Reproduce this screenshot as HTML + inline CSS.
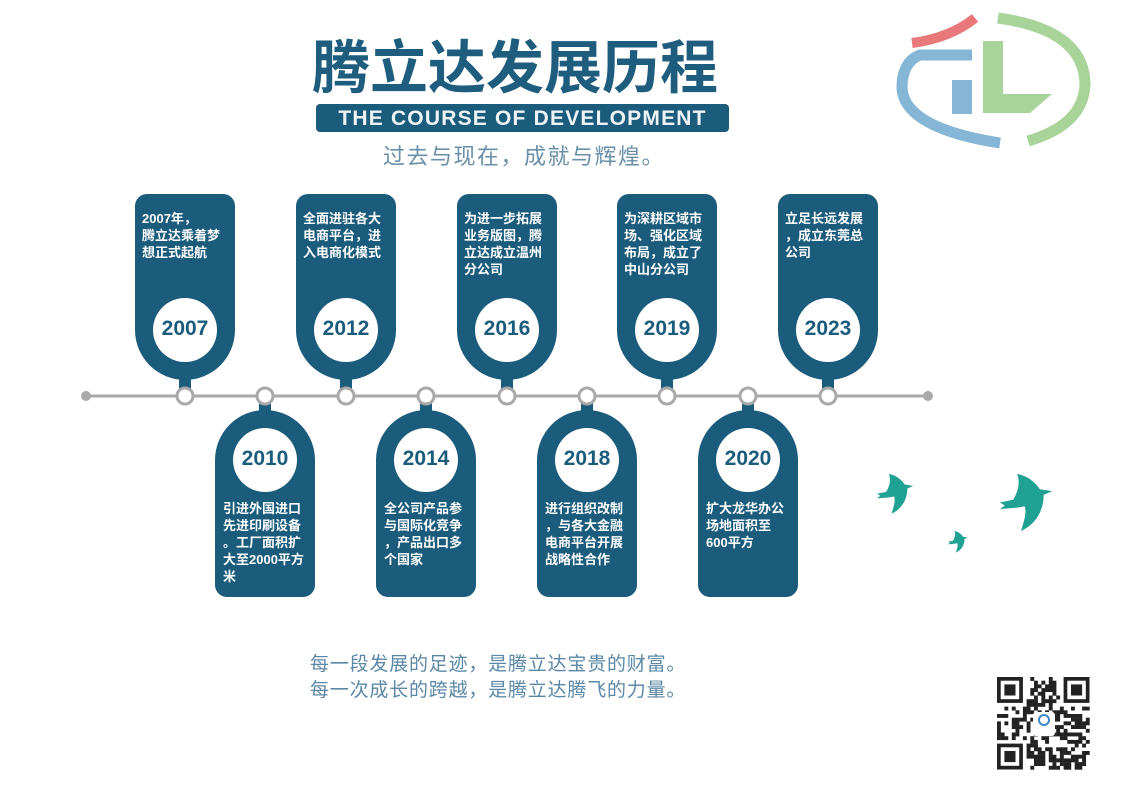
<!DOCTYPE html>
<html><head><meta charset="utf-8">
<style>
html,body{margin:0;padding:0;background:#fff;}
body{width:1123px;height:791px;position:relative;overflow:hidden;font-family:"Liberation Sans","Noto Sans CJK SC",sans-serif;}
.abs{position:absolute;}
.title{left:312px;top:34px;font-size:58px;font-weight:bold;color:#1f5d7e;letter-spacing:0px;white-space:nowrap;line-height:70px;}
.banner{left:316px;top:104px;width:413px;height:28px;background:#1b5c7d;border-radius:4px;color:#eef3f6;font-size:21px;font-weight:bold;line-height:29px;text-align:center;letter-spacing:1.2px;white-space:nowrap;}
.sub{left:383px;top:142px;font-size:22px;color:#6a8fa8;letter-spacing:1.5px;white-space:nowrap;line-height:30px;}
.ct{color:#fff;font-size:13px;font-weight:bold;line-height:17px;white-space:nowrap;}
.yr{color:#1b5c7d;font-size:21px;font-weight:bold;width:100px;text-align:center;}
.foot{left:310px;font-size:19px;color:#5b88a6;letter-spacing:0.8px;white-space:nowrap;}
</style></head><body>
<svg class="abs" style="left:0;top:0" width="1123" height="791">
 <path d="M912,43 Q950,38 975,18" stroke="#e8787a" stroke-width="10" fill="none"/>
 <path d="M972,55 H920 Q902,62 902,88 Q904,128 1000,143" stroke="#86b6d6" stroke-width="11" fill="none"/>
 <rect x="952" y="80" width="20" height="34" fill="#86b6d6"/>
 <path d="M998,18 Q1085,30 1085,85 Q1083,125 1028,141" stroke="#a8d49a" stroke-width="11" fill="none"/>
 <path d="M983,41 H1003 V94 H1052 L1030,113 H983 Z" fill="#a8d49a"/>
 <line x1="86" y1="396" x2="928" y2="396" stroke="#a9a9a9" stroke-width="3"/>
 <circle cx="86" cy="396" r="5" fill="#a9a9a9"/>
 <circle cx="928" cy="396" r="5" fill="#a9a9a9"/>
 <g id="cards"></g>
 <g id="qr"></g>
 <g fill="#1fa293">
  <path transform="translate(1000,474) scale(0.95)" d="M0,30 L14,27 C18,20 22,10 18,0 C30,2 38,10 42,16 L55,18 L46,22 C46,40 36,54 22,60 C26,48 28,40 26,34 C18,36 10,36 0,37 L5,33 Z"/>
  <path transform="translate(877,474) scale(0.66)" d="M0,30 L14,27 C18,20 22,10 18,0 C30,2 38,10 42,16 L55,18 L46,22 C46,40 36,54 22,60 C26,48 28,40 26,34 C18,36 10,36 0,37 L5,33 Z"/>
  <path transform="translate(948,531) scale(0.36)" d="M0,30 L14,27 C18,20 22,10 18,0 C30,2 38,10 42,16 L55,18 L46,22 C46,40 36,54 22,60 C26,48 28,40 26,34 C18,36 10,36 0,37 L5,33 Z"/>
 </g>
</svg>
<div class="abs title">腾立达发展历程</div>
<div class="abs banner">THE COURSE OF DEVELOPMENT</div>
<div class="abs sub">过去与现在，成就与辉煌。</div>
<div id="txt"></div>
<div class="abs foot" style="top:649px">每一段发展的足迹，是腾立达宝贵的财富。</div>
<div class="abs foot" style="top:675px">每一次成长的跨越，是腾立达腾飞的力量。</div>
<script>
var NS="http://www.w3.org/2000/svg";
var g=document.getElementById("cards"),C="#1b5c7d";
function el(t,a){var e=document.createElementNS(NS,t);for(var k in a)e.setAttribute(k,a[k]);g.appendChild(e);return e;}
var data=[
[185,1,"2007","2007年，<br>腾立达乘着梦<br>想正式起航"],
[265,0,"2010","引进外国进口<br>先进印刷设备<br>。工厂面积扩<br>大至2000平方<br>米"],
[346,1,"2012","全面进驻各大<br>电商平台，进<br>入电商化模式"],
[426,0,"2014","全公司产品参<br>与国际化竞争<br>，产品出口多<br>个国家"],
[507,1,"2016","为进一步拓展<br>业务版图，腾<br>立达成立温州<br>分公司"],
[587,0,"2018","进行组织改制<br>，与各大金融<br>电商平台开展<br>战略性合作"],
[667,1,"2019","为深耕区域市<br>场、强化区域<br>布局，成立了<br>中山分公司"],
[748,0,"2020","扩大龙华办公<br>场地面积至<br>600平方"],
[828,1,"2023","立足长远发展<br>，成立东莞总<br>公司"]];
var txt=document.getElementById("txt"),h="";
data.forEach(function(d){
 var x=d[0],l=x-50;
 if(d[1]){
  el("path",{d:"M"+l+",206 a12,12 0 0 1 12,-12 h76 a12,12 0 0 1 12,12 v124 a50,50 0 0 1 -100,0 z",fill:C});
  el("rect",{x:x-6,y:370,width:12,height:20,fill:C});
  el("circle",{cx:x,cy:330,r:32,fill:"#fff"});
  h+='<div class="abs ct" style="left:'+(l+7)+'px;top:210px">'+d[3]+'</div>';
  h+='<div class="abs yr" style="left:'+l+'px;top:317px">'+d[2]+'</div>';
 }else{
  el("path",{d:"M"+l+",460 a50,50 0 0 1 100,0 v125 a12,12 0 0 1 -12,12 h-76 a12,12 0 0 1 -12,-12 z",fill:C});
  el("rect",{x:x-6,y:400,width:12,height:20,fill:C});
  el("circle",{cx:x,cy:460,r:32,fill:"#fff"});
  h+='<div class="abs ct" style="left:'+(l+8)+'px;top:500px">'+d[3]+'</div>';
  h+='<div class="abs yr" style="left:'+l+'px;top:447px">'+d[2]+'</div>';
 }
 el("circle",{cx:x,cy:396,r:8,fill:"#fff",stroke:"#a9a9a9","stroke-width":3});
});
txt.innerHTML=h;
g=document.getElementById("qr");
el("rect",{x:991,y:671,width:106,height:106,fill:"#fff"});
var s=12345,m=3.7,ox=997,oy=677,n=25;
function r(){s=(s*1103515245+12345)%2147483648;return s/2147483648;}
for(var i=0;i<n;i++)for(var j=0;j<n;j++){
 var f=(i<8&&j<8)||(i<8&&j>=n-8)||(i>=n-8&&j<8);
 if(f)continue;
 if(r()<0.5)el("rect",{x:ox+j*m,y:oy+i*m,width:m+0.2,height:m+0.2,fill:"#222"});
}
[[0,0],[0,n-7],[n-7,0]].forEach(function(p){
 var X=ox+p[1]*m,Y=oy+p[0]*m;
 el("rect",{x:X,y:Y,width:7*m,height:7*m,fill:"#222"});
 el("rect",{x:X+m,y:Y+m,width:5*m,height:5*m,fill:"#fff"});
 el("rect",{x:X+2*m,y:Y+2*m,width:3*m,height:3*m,fill:"#222"});
});
el("rect",{x:1033,y:712,width:22,height:24,fill:"#fff",rx:3});
el("circle",{cx:1044,cy:720,r:5,fill:"none",stroke:"#3a8ac0","stroke-width":2});
</script>
</body></html>
